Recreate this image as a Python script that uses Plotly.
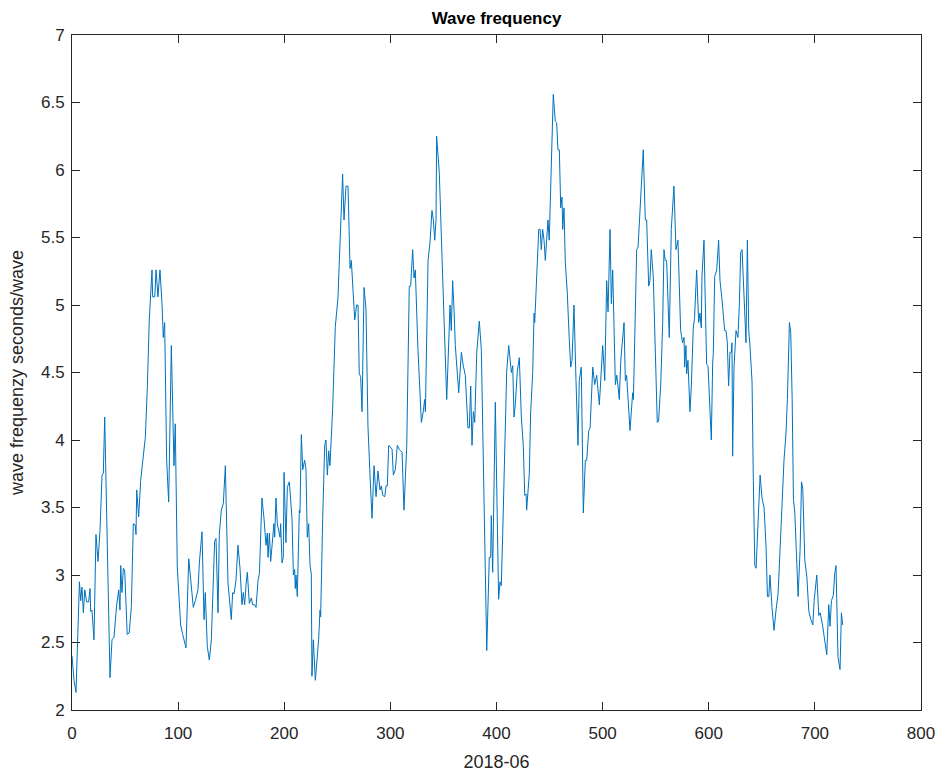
import plotly.graph_objects as go

# sample index (x) and wave frequency readings (y)
x_vals = [0, 1.9, 3.8, 5.0, 7.0, 8.2, 9.4, 10.7, 12.0, 13.8, 15.7, 17.0, 17.6, 18.8, 20.7, 22.6, 24.5, 26.4, 28.3, 29.5,
          30.8, 35.8, 37.7, 39.6, 42.0, 44.0, 45.2, 45.9, 47.1, 48.4, 49.7, 52.0, 53.9, 55.9, 57.8, 59.6,
          60.3, 61.0, 62.8, 64.7, 66.6, 69.1, 71.0, 72.8, 75.4, 76.0, 78.0, 79.2, 81.0, 82.9, 84.8, 86.0, 87.3,
          89.2, 91.1, 93.6, 96.1, 97.3, 99.2, 102.4, 104.3, 107.4, 110.0, 114.3, 116.2, 118.7,
          120.0, 122.5, 124.4, 125.6, 127.5, 129.4, 131.3, 134.4, 135.7, 137.6, 138.8, 140.7, 142.6, 144.5,
          147.0, 150.1, 151.4, 152.7, 154.5, 156.4, 158.3, 160.2, 161.4, 162.7, 164.0, 165.2, 167.1, 169.0,
          170.2, 172.1, 173.4, 175.3, 176.6,
          179.0, 180.9, 182.8, 184.0, 184.7, 186.0, 187.2, 190.3, 191.0, 192.2, 193.5, 196.0, 196.6, 197.9,
          199.1, 199.8, 201.6, 202.9, 204.8, 207.3, 208.6, 209.8, 210.4, 211.1, 212.3, 214.2, 214.8, 216.1,
          217.4, 219.2, 220.5, 221.7, 223.0, 224.3, 225.5, 226.1, 227.4, 229.3, 232.4, 233.7, 234.3, 236.2, 238.1,
          239.3, 240.6, 241.9, 243.1, 245.6, 248.1, 250.6, 253.2, 255.0, 256.3, 258.2, 260.1, 262.0, 263.2,
          264.5, 266.4, 268.2, 269.5, 270.7, 272.0, 273.3, 275.2, 277.0, 278.9, 280.8, 282.7, 284.6, 286.5,
          288.3, 290.2, 291.5, 292.8, 294.7, 295.9, 297.1, 298.4, 299.7,
          301.6, 302.8, 304.7, 306.5, 308.4, 311.0, 312.8, 315.4, 317.8, 319.1, 321.0, 322.3, 323.5, 326.0,
          329.2, 331.0, 332.3, 333.0, 335.5, 337.3, 339.2, 340.5, 341.8, 343.0, 343.6, 346.1, 347.4, 348.6,
          350.5, 353.1, 355.0, 356.2, 357.4, 358.7, 360.0, 361.2,
          364.4, 366.9, 368.7, 370.6, 373.1, 374.4, 375.7, 376.9, 378.2, 379.5, 381.4, 383.8, 385.7, 390.8,
          393.2, 394.5, 395.1, 396.4, 398.9, 402.0, 403.3, 404.5, 405.8, 407.7, 409.6, 411.5, 412.7, 414.0,
          415.3, 416.5, 417.7, 419.6, 421.5,
          423.4, 425.3, 426.6, 427.9, 428.4, 430.9, 432.2, 434.1, 435.4, 436.0, 437.9, 439.8, 441.1, 442.2,
          443.5, 444.8, 446.0, 447.3, 448.5, 449.7, 451.6, 453.5, 455.4, 456.7, 457.9, 459.2, 460.5, 461.7,
          462.4, 463.6, 464.8, 466.7, 468.6, 469.9, 471.2, 473.0, 474.9, 476.8, 478.0, 479.9, 481.8,
          483.7, 485.0, 486.9, 488.2, 490.7, 492.5, 494.4, 496.9, 500.1, 502.0, 503.8, 505.1, 507.0, 508.2,
          509.5, 512.0, 513.3, 514.5, 515.7, 517.1, 520.2, 521.4, 522.6, 525.8, 528.3, 529.0, 532.1, 533.4,
          535.9, 538.3, 540.2, 541.5,
          543.4, 544.6, 545.8, 547.7, 551.5, 552.7, 554.7, 556.6, 557.8, 559.0, 560.3, 562.8, 564.7, 567.2,
          569.1, 571.0, 573.5, 575.4, 576.7, 577.3, 578.5, 579.2, 580.4, 582.3, 583.6, 585.4, 586.6, 588.6,
          590.5, 591.7, 593.0, 593.6, 595.5, 598.0, 599.3, 601.1, 602.4,
          603.7, 604.3, 605.6, 606.8, 607.5, 609.3, 610.6, 612.5, 615.0, 616.3, 617.5, 618.7, 620.0, 621.3,
          621.9, 622.5, 623.8, 625.7, 627.5, 628.8, 630.1, 631.4, 632.6, 633.9, 635.1, 636.4, 637.7, 638.9,
          640.1, 640.8, 642.0, 643.4, 644.6, 646.5, 648.4, 650.2, 652.1, 654.0, 655.3, 656.6, 657.7, 659.6, 661.5,
          663.4, 665.3, 667.2, 669.0, 670.9, 672.8, 674.1, 676.0, 677.3, 678.6, 679.8, 681.1, 682.3, 684.2,
          686.1, 687.4, 688.6, 690.5, 692.4, 694.3, 696.2, 698.1, 699.3, 701.8, 703.7, 705.0, 707.4, 709.3,
          711.2, 713.1, 714.3, 715.6, 717.4, 718.7, 719.9, 721.8, 723.7, 725.0, 726.2]

y_vals = [2.40, 2.22, 2.13, 2.50, 2.95, 2.81, 2.91, 2.72, 2.89, 2.80, 2.80, 2.90, 2.73, 2.74, 2.52, 3.30, 3.10, 3.33, 3.74, 3.75,
          4.17, 2.24, 2.52, 2.54, 2.77, 2.89, 2.74, 3.07, 2.87, 3.05, 3.03, 2.56, 2.57, 2.76, 3.38, 3.37,
          3.30, 3.63, 3.43, 3.70, 3.85, 4.02, 4.39, 4.89, 5.26, 5.06, 5.06, 5.26, 5.06, 5.26, 5.01, 4.76, 4.87,
          3.85, 3.54, 4.70, 3.81, 4.12, 3.06, 2.63, 2.56, 2.46, 3.12, 2.76, 2.81, 2.89,
          3.09, 3.32, 2.67, 2.87, 2.47, 2.37, 2.52, 3.25, 3.27, 2.72, 3.30, 3.48, 3.53, 3.81,
          2.94, 2.67, 2.87, 2.86, 2.96, 3.22, 3.05, 2.78, 2.87, 2.78, 2.93, 3.02, 2.79, 2.83,
          2.78, 2.78, 2.76, 2.96, 3.01,
          3.57, 3.42, 3.22, 3.31, 3.13, 3.31, 3.10, 3.38, 3.28, 3.57, 3.38, 3.28, 3.38, 3.09,
          3.13, 3.76, 3.24, 3.65, 3.69, 3.42, 3.00, 3.04, 2.90, 3.00, 2.84, 3.48, 3.46, 4.04,
          3.78, 3.85, 3.78, 3.28, 3.38, 3.07, 3.01, 2.25, 2.52, 2.22, 2.52, 2.74, 2.69, 3.41, 3.96,
          4.00, 3.74, 3.92, 3.81, 4.23, 4.84, 5.05, 5.69, 5.97, 5.63, 5.88, 5.88, 5.27, 5.33,
          5.11, 4.89, 5.00, 5.00, 4.49, 4.47, 4.21, 5.13, 4.97, 4.10, 3.74, 3.42, 3.81, 3.58,
          3.77, 3.63, 3.66, 3.59, 3.58, 3.66, 3.66, 3.96, 3.95,
          3.93, 3.74, 3.78, 3.96, 3.93, 3.91, 3.48, 3.95, 5.14, 5.14, 5.41, 5.20, 5.26, 4.67,
          4.13, 4.21, 4.30, 4.21, 5.33, 5.46, 5.70, 5.63, 5.48, 5.63, 6.25, 5.98, 5.63, 5.33,
          4.91, 4.30, 4.84, 5.00, 4.81, 5.18, 4.96, 4.70,
          4.35, 4.65, 4.55, 4.48, 4.09, 4.09, 4.40, 3.96, 4.21, 4.13, 4.65, 4.88, 4.67, 2.44,
          3.13, 3.13, 3.44, 3.02, 4.28, 2.82, 2.95, 2.92, 3.29, 3.96, 4.51, 4.70, 4.59, 4.50,
          4.55, 4.17, 4.26, 4.51, 4.61,
          4.17, 3.95, 3.59, 3.60, 3.48, 3.75, 4.20, 4.50, 4.94, 4.87, 5.28, 5.56, 5.56, 5.41,
          5.56, 5.48, 5.33, 5.50, 5.63, 5.48, 6.02, 6.56, 6.36, 6.35, 6.15, 6.15, 5.72, 5.80,
          5.56, 5.72, 5.32, 5.09, 4.74, 4.54, 4.59, 5.00, 4.44, 3.96, 4.44, 4.54, 3.46,
          3.85, 3.85, 4.07, 4.09, 4.54, 4.41, 4.48, 4.26, 4.70, 4.44, 5.18, 4.95, 5.56, 5.01,
          5.26, 4.41, 4.48, 4.40, 4.30, 4.59, 4.87, 4.44, 4.48, 4.07, 4.35, 4.30, 5.41, 5.43,
          5.80, 6.15, 5.63, 5.63,
          5.14, 5.18, 5.41, 5.21, 4.13, 4.14, 4.40, 4.87, 5.41, 5.33, 5.33, 4.76, 5.56, 5.88,
          5.41, 5.48, 4.81, 4.72, 4.76, 4.54, 4.70, 4.49, 4.59, 4.21, 4.40, 4.83, 4.90, 5.26,
          4.87, 4.94, 4.83, 5.21, 5.48, 4.56, 4.55, 4.14, 4.00,
          4.57, 4.64, 5.21, 5.26, 5.26, 5.48, 5.18, 5.04, 4.81, 4.81, 4.72, 4.40, 4.65, 4.65,
          4.72, 3.88, 4.54, 4.81, 4.76, 4.99, 5.39, 5.41, 5.18, 4.87, 4.72, 5.48, 4.81, 4.69,
          4.44, 4.43, 3.70, 3.07, 3.05, 3.46, 3.74, 3.57, 3.50, 3.21, 2.84, 2.84, 3.00, 2.76, 2.59,
          2.74, 2.86, 3.19, 3.56, 3.85, 4.05, 4.30, 4.87, 4.79, 4.30, 3.56, 3.46, 3.16, 2.84,
          3.19, 3.69, 3.64, 3.11, 2.99, 2.73, 2.67, 2.63, 2.81, 3.00, 2.70, 2.72, 2.62, 2.50,
          2.41, 2.78, 2.62, 2.81, 2.85, 3.01, 3.07, 2.39, 2.30, 2.72, 2.63]

x_ticks = [0, 100, 200, 300, 400, 500, 600, 700, 800]
y_ticks = [2, 2.5, 3, 3.5, 4, 4.5, 5, 5.5, 6, 6.5, 7]
y_tick_text = ["2", "2.5", "3", "3.5", "4", "4.5", "5", "5.5", "6", "6.5", "7"]

font_family = "Liberation Sans, Arial, Helvetica, sans-serif"
axis_color = "#262626"

fig = go.Figure()
fig.add_trace(go.Scatter(x=x_vals, y=y_vals, mode="lines",
                         line=dict(color="#0072BD", width=1)))

fig.update_layout(
    width=949, height=775,
    margin=dict(l=72, r=28, t=35, b=65),
    paper_bgcolor="white", plot_bgcolor="white",
    showlegend=False,
    title=dict(text="<b>Wave frequency</b>", x=(72 + 921) / 2 / 949, xanchor="center",
               y=1 - 18 / 775, yanchor="middle",
               font=dict(family=font_family, size=17, color="black")),
    font=dict(family=font_family, size=16, color=axis_color),
)
fig.update_xaxes(range=[0, 800], tickvals=x_ticks, ticks="inside", ticklen=8, tickwidth=1,
                 tickcolor=axis_color, showline=True, linecolor=axis_color, linewidth=1,
                 mirror="allticks", showgrid=False, zeroline=False, ticklabelstandoff=8,
                 automargin=False,
                 tickfont=dict(size=17, color=axis_color),
                 title=dict(text="2018-06", font=dict(size=18, color=axis_color), standoff=12))
fig.update_yaxes(range=[2, 7], tickvals=y_ticks, ticktext=y_tick_text, ticks="inside", ticklen=8,
                 tickwidth=1, tickcolor=axis_color, showline=True, linecolor=axis_color, linewidth=1,
                 mirror="allticks", showgrid=False, zeroline=False, ticklabelstandoff=3,
                 automargin=False,
                 tickfont=dict(size=17, color=axis_color),
                 title=dict(text="wave frequenzy seconds/wave", font=dict(size=18, color=axis_color),
                            standoff=12))

fig.write_html("out.html")
